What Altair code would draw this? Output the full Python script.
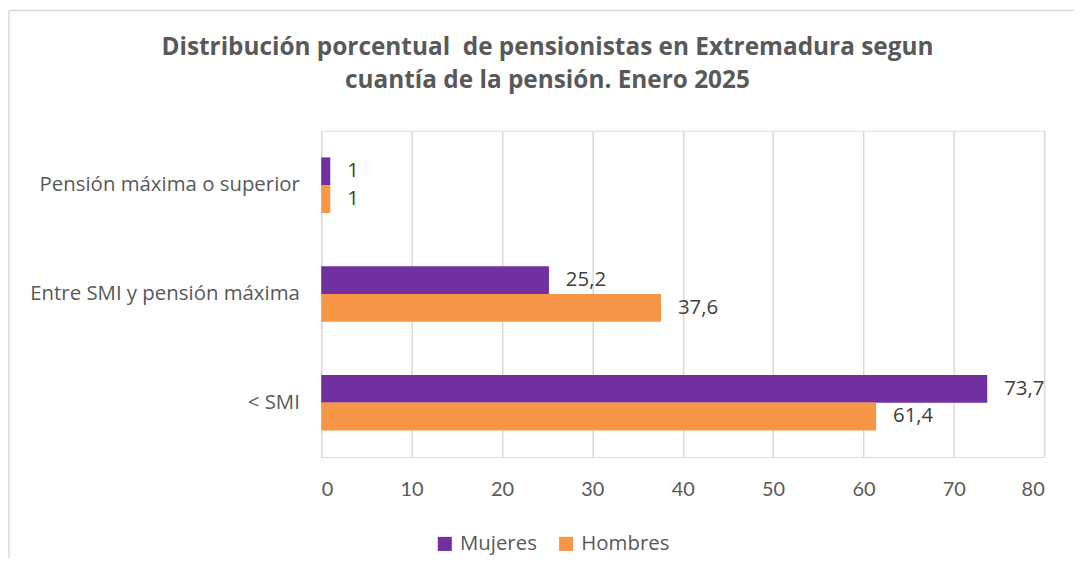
import altair as alt
import pandas as pd

categories = ["Pensión máxima o superior", "Entre SMI y pensión máxima", "< SMI"]
series = ["Mujeres", "Hombres"]
mujeres = [1, 25.2, 73.7]
hombres = [1, 37.6, 61.4]
x_ticks = [0, 10, 20, 30, 40, 50, 60, 70, 80]
colors = ["#7030A0", "#F79646"]
title_lines = ["Distribución porcentual \u00a0de pensionistas en Extremadura segun",
               "cuantía de la pensión. Enero 2025"]

rows = []
for c, m, h in zip(categories, mujeres, hombres):
    rows.append({"cat": c, "serie": "Mujeres", "valor": m})
    rows.append({"cat": c, "serie": "Hombres", "valor": h})
df = pd.DataFrame(rows)
df["label"] = df["valor"].map(lambda v: (f"{v:g}").replace(".", ","))

W, H = 727, 328

y_enc = alt.Y("cat:N", sort=categories, title=None,
              scale=alt.Scale(paddingInner=0.49, paddingOuter=0.245),
              axis=alt.Axis(labelFont="Open Sans", labelFontSize=20.5, labelColor="#595959",
                            labelPadding=22, ticks=False, domain=False, labelLimit=400))
yoff = alt.YOffset("serie:N", sort=series, scale=alt.Scale(paddingInner=0, paddingOuter=0))
x_enc = alt.X("valor:Q", title=None, scale=alt.Scale(domain=[0, 80], nice=False),
              axis=alt.Axis(values=x_ticks, labelFont="Lato", labelFontSize=20,
                            labelColor="#595959", labelPadding=23, ticks=False, domain=False,
                            grid=True, gridColor="#D9D9D9", gridWidth=1.5))

bars = alt.Chart(df).mark_bar(size=28).encode(
    x=x_enc, y=y_enc, yOffset=yoff,
    color=alt.Color("serie:N", sort=series,
                    scale=alt.Scale(domain=series, range=colors),
                    legend=alt.Legend(title=None, orient="none", direction="horizontal",
                                      legendX=114, legendY=405, symbolType="square",
                                      symbolSize=200, symbolStrokeWidth=0,
                                      labelFont="Open Sans", labelFontSize=20.5,
                                      labelColor="#595959", columnPadding=19,
                                      labelOffset=5)),
)

labels = alt.Chart(df).mark_text(align="left", baseline="middle", dx=17,
                                 font="Open Sans", fontSize=20.5, color="#404040").encode(
    x="valor:Q", y=alt.Y("cat:N", sort=categories), yOffset=alt.YOffset("serie:N", sort=series),
    text="label:N",
)

border = alt.Chart(pd.DataFrame({"a": [0]})).mark_rule(color="#D9D9D9", strokeWidth=1.5).encode(
    x=alt.value(-314), y=alt.value(-121), y2=alt.value(H + 120),
)
border_top = alt.Chart(pd.DataFrame({"a": [0]})).mark_rule(color="#D9D9D9", strokeWidth=1.5).encode(
    x=alt.value(-314), x2=alt.value(W + 30), y=alt.value(-121),
)

chart = alt.layer(border, border_top, bars, labels).properties(
    width=W, height=H,
    title=alt.TitleParams(title_lines, anchor="middle", frame="group", font="Open Sans",
                          fontSize=24.5, fontWeight="bold", color="#595959", offset=-84,
                          dx=-136, lineHeight=33),
    autosize=alt.AutoSizeParams(type="none"),
    padding={"left": 315, "top": 122, "right": 30, "bottom": 100},
).configure_view(stroke=None).configure(background="white")

chart.save("out.html", embed_options={"renderer": "svg", "actions": False})
